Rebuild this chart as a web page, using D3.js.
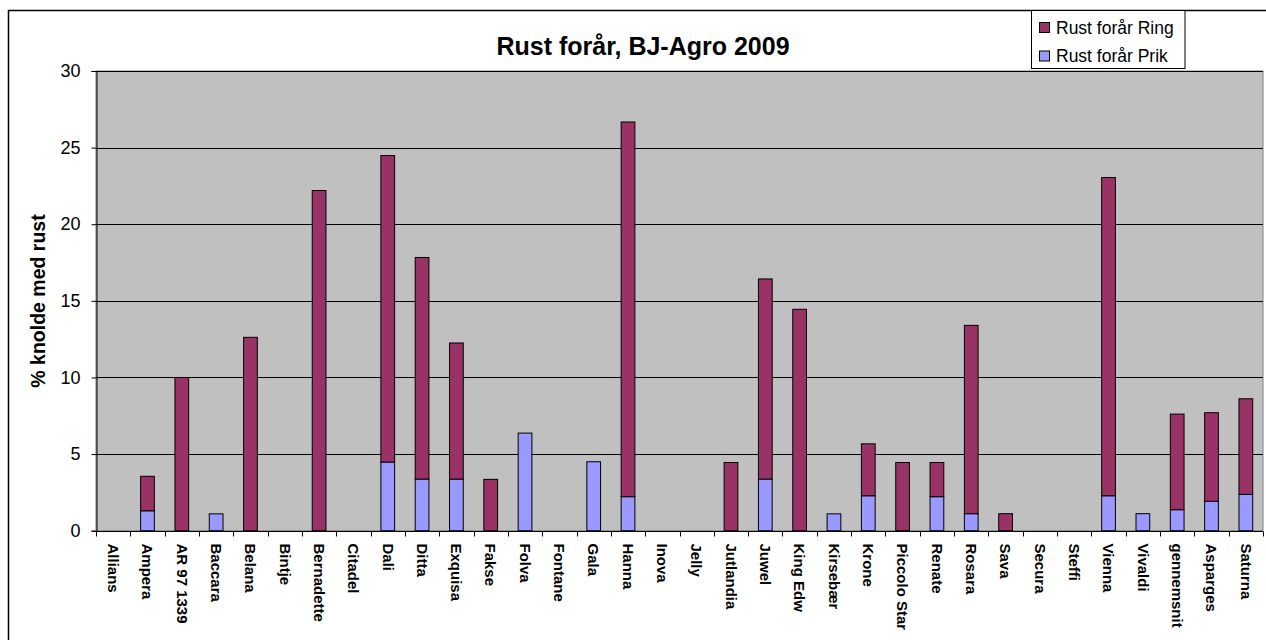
<!DOCTYPE html>
<html>
<head>
<meta charset="utf-8">
<script src="https://cdn.jsdelivr.net/npm/d3@7"></script>
<style>
  body { margin: 0; background: #fff; }
  svg { display: block; font-family: "Liberation Sans", Arial, sans-serif; }
</style>
</head>
<body>
<svg id="chart" width="1266" height="640"></svg>
<script>
// categories along x axis
var sorter = [
  "Allians", "Ampera", "AR 97 1339", "Baccara", "Belana", "Bintje", "Bernadette",
  "Citadel", "Dali", "Ditta", "Exquisa", "Fakse", "Folva", "Fontane", "Gala",
  "Hanna", "Inova", "Jelly", "Jutlandia", "Juwel", "King Edw", "Kirsebær", "Krone",
  "Piccolo Star", "Renate", "Rosara", "Sava", "Secura", "Steffi", "Vienna",
  "Vivaldi", "gennemsnit", "Asparges", "Saturna"
];

// % knolde med rust
var prik = [
  0, 1.3, 0, 1.1, 0, 0, 0,
  0, 4.48, 3.37, 3.37, 0, 6.37, 0, 4.5,
  2.22, 0, 0, 0, 3.37, 0, 1.1, 2.28,
  0, 2.22, 1.11, 0, 0, 0, 2.28,
  1.11, 1.37, 1.92, 2.37
];
var ring = [
  0, 2.25, 10.0, 0, 12.62, 0, 22.2,
  0, 20.0, 14.46, 8.88, 3.35, 0, 0, 0,
  24.45, 0, 0, 4.45, 13.06, 14.45, 0, 3.39,
  4.45, 2.23, 12.29, 1.11, 0, 0, 20.77,
  0, 6.24, 5.78, 6.24
];

var yTicks = [0, 5, 10, 15, 20, 25, 30];

var seriesInfo = [
  { key: "prik", name: "Rust forår Prik", color: "#9999FF" },
  { key: "ring", name: "Rust forår Ring", color: "#993366" }
];

var margin = { left: 96, top: 71, right: 1263, bottom: 530.7 };

var svg = d3.select("#chart");

// outer chart frame (cut by the window at right & bottom)
svg.append("rect")
  .attr("x", 8.5).attr("y", 10.5)
  .attr("width", 1300).attr("height", 700)
  .attr("fill", "#fff").attr("stroke", "#000").attr("stroke-width", 1.5);

var x = d3.scaleBand().domain(sorter).range([margin.left, margin.right]).padding(0);
var xBar = d3.scaleBand().domain(sorter).range([margin.left, margin.right])
  .paddingInner(0.6).paddingOuter(0.3);
var y = d3.scaleLinear().domain([0, 30]).range([margin.bottom, margin.top]);

// plot area
svg.append("rect")
  .attr("x", margin.left).attr("y", margin.top)
  .attr("width", margin.right - margin.left).attr("height", margin.bottom - margin.top)
  .attr("fill", "#C0C0C0").attr("stroke", "#808080");

// gridlines
svg.append("g").selectAll("line").data(yTicks.filter(function (d) { return d > 0; }))
  .enter().append("line")
  .attr("x1", margin.left).attr("x2", margin.right)
  .attr("y1", function (d) { return Math.round(y(d)) + 0.5; })
  .attr("y2", function (d) { return Math.round(y(d)) + 0.5; })
  .attr("stroke", "#000");

// stacked bars
var table = sorter.map(function (c, i) {
  return { cat: c, prik: prik[i], ring: ring[i] };
});
var stack = d3.stack().keys(["prik", "ring"])(table);

svg.append("g").selectAll("g").data(stack).enter().append("g")
  .attr("fill", function (d, i) { return seriesInfo[i].color; })
  .selectAll("rect").data(function (d) { return d.filter(function (p) { return p[1] - p[0] > 0; }); })
  .enter().append("rect")
  .attr("x", function (d) { return xBar(d.data.cat); })
  .attr("width", xBar.bandwidth())
  .attr("y", function (d) { return y(d[1]); })
  .attr("height", function (d) { return y(d[0]) - y(d[1]); })
  .attr("stroke", "#000").attr("stroke-width", 1);

// y axis
var yAxis = svg.append("g")
  .attr("transform", "translate(" + (margin.left + 0.5) + ",0)")
  .call(d3.axisLeft(y).tickValues(yTicks).tickSize(5).tickPadding(11));
yAxis.select(".domain").attr("stroke", "#000");
yAxis.selectAll(".tick line").attr("stroke", "#000");
yAxis.selectAll("text").attr("font-size", 18).attr("fill", "#000")
  .style("font-family", "'Liberation Sans', Arial, sans-serif");

// x axis: ticks at category boundaries
var xAxis = svg.append("g").attr("transform", "translate(0," + (Math.round(margin.bottom) + 0.5) + ")");
xAxis.append("line")
  .attr("x1", margin.left).attr("x2", margin.right)
  .attr("stroke", "#000");
xAxis.selectAll(".tk").data(sorter.concat(["end"])).enter().append("line")
  .attr("class", "tk")
  .attr("x1", function (d, i) { return Math.round(margin.left + i * x.step()) + 0.5; })
  .attr("x2", function (d, i) { return Math.round(margin.left + i * x.step()) + 0.5; })
  .attr("y1", 0).attr("y2", 5)
  .attr("stroke", "#000");
xAxis.selectAll("text").data(sorter).enter().append("text")
  .attr("transform", function (d) {
    return "translate(" + (x(d) + x.bandwidth() / 2) + ",12) rotate(90)";
  })
  .attr("dy", "0.35em")
  .attr("font-size", 15).attr("font-weight", "bold")
  .text(function (d) { return d; });

// axis title
svg.append("text")
  .attr("transform", "translate(38,301) rotate(-90)")
  .attr("text-anchor", "middle").attr("dy", "0.35em")
  .attr("font-size", 19.5).attr("font-weight", "bold")
  .text("% knolde med rust");

// title
svg.append("text")
  .attr("x", 643).attr("y", 55)
  .attr("text-anchor", "middle")
  .attr("font-size", 25).attr("font-weight", "bold")
  .text("Rust forår, BJ-Agro 2009");

// legend
var legend = svg.append("g");
legend.append("rect")
  .attr("x", 1031.5).attr("y", 10.5).attr("width", 153.5).attr("height", 58)
  .attr("fill", "#fff").attr("stroke", "#000");
var legItems = [seriesInfo[1], seriesInfo[0]];
legItems.forEach(function (s, i) {
  legend.append("rect")
    .attr("x", 1039.5).attr("y", 22.5 + i * 28.5).attr("width", 10).attr("height", 10)
    .attr("fill", s.color).attr("stroke", "#000");
  legend.append("text")
    .attr("x", 1056).attr("y", 33.5 + i * 28.5)
    .attr("font-size", 17.5)
    .text(s.name);
});
</script>
</body>
</html>
